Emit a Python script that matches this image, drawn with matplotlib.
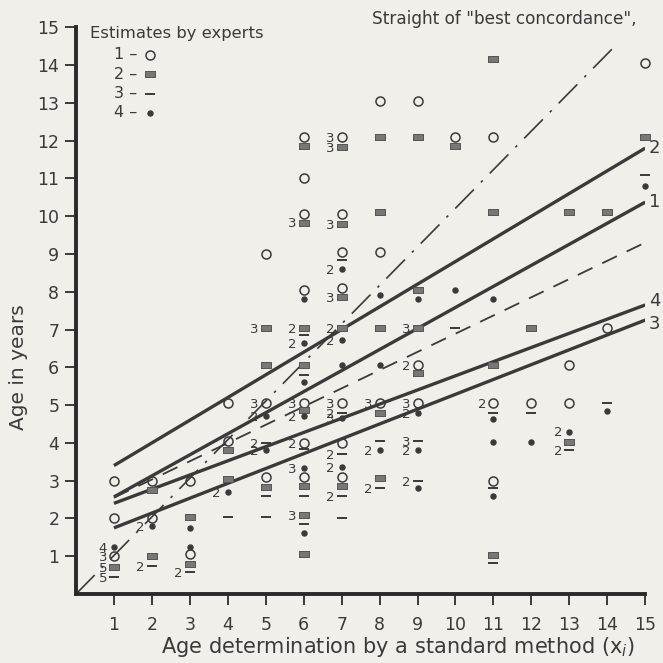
import matplotlib
matplotlib.use("Agg")
import matplotlib.pyplot as plt

# expert 1 - open circles (n = how many coincide, 1 = no label)
circ_x = [1, 1, 1, 2, 2, 3, 3, 4, 4, 5, 5, 5,
          6, 6, 6, 6, 6, 6, 6, 7, 7, 7, 7, 7, 7, 7,
          8, 8, 8, 9, 9, 9, 10, 11, 11, 11, 12, 13, 13, 14, 15]
circ_y = [3.0, 2.0, 1.0, 3.0, 2.0, 3.0, 1.05, 5.05, 4.05, 9.0, 5.05, 3.1,
          12.1, 11.0, 10.05, 8.05, 5.05, 4.0, 3.1, 12.1, 10.05, 9.05, 8.1, 5.05, 4.0, 3.1,
          13.05, 9.05, 5.05, 13.05, 6.05, 5.05, 12.1, 12.1, 5.05, 3.0, 5.05, 6.05, 5.05, 7.05, 14.05]
circ_n = [1, 1, 3, 1, 1, 1, 1, 1, 1, 1, 3, 1,
          1, 1, 1, 1, 3, 2, 1, 3, 1, 1, 1, 3, 1, 1,
          1, 1, 3, 1, 2, 3, 1, 1, 2, 1, 1, 1, 1, 1, 1]

# expert 2 - filled rectangles
sq_x = [1, 2, 2, 3, 3, 4, 4, 5, 5, 5,
        6, 6, 6, 6, 6, 6, 6, 6, 7, 7, 7, 7, 7,
        8, 8, 8, 8, 8, 9, 9, 9, 9, 10, 11, 11, 11, 11, 12, 13, 13, 14, 15]
sq_y = [0.72, 2.75, 1.0, 2.05, 0.8, 3.8, 3.05, 7.05, 6.05, 2.82,
        11.85, 9.83, 7.05, 6.05, 4.87, 2.85, 2.08, 1.05, 11.83, 9.8, 7.85, 7.05, 2.85,
        12.1, 10.1, 7.05, 4.8, 3.07, 12.1, 8.05, 7.05, 5.85, 11.85, 14.15, 10.1, 6.05, 1.03,
        7.05, 10.1, 4.02, 10.1, 12.1]
sq_n = [5, 1, 1, 1, 1, 1, 1, 3, 1, 1,
        1, 3, 2, 1, 1, 1, 3, 1, 3, 3, 3, 2, 1,
        1, 1, 1, 1, 1, 1, 1, 3, 1, 1, 1, 1, 1, 1, 1, 1, 1, 1, 1]

# expert 3 - dashes
dash_x = [1, 2, 3, 4, 5, 5, 5, 6, 6, 6, 6, 6, 7, 7, 7, 7, 7,
          8, 8, 9, 9, 10, 11, 11, 11, 12, 13, 14, 15]
dash_y = [0.45, 0.75, 0.58, 2.05, 4.0, 2.6, 2.05, 6.85, 5.8, 3.85, 2.6, 1.85,
          8.85, 4.8, 3.7, 2.6, 2.0, 4.05, 2.8, 4.05, 3.0, 7.05,
          4.78, 2.8, 0.82, 4.78, 3.8, 5.05, 11.1]
dash_n = [5, 2, 2, 1, 2, 1, 1, 1, 1, 1, 1, 1, 1, 2, 2, 2, 1,
          1, 2, 3, 2, 1, 1, 1, 1, 1, 2, 1, 1]

# expert 4 - dots
dot_x = [1, 2, 3, 3, 4, 5, 5, 6, 6, 6, 6, 6, 6, 7, 7, 7, 7, 7,
         8, 8, 8, 9, 9, 9, 9, 10, 11, 11, 11, 11, 12, 13, 14, 15]
dot_y = [1.25, 1.8, 1.75, 1.25, 2.7, 4.72, 3.8, 7.8, 6.65, 5.6, 4.72, 3.33, 1.62,
         8.6, 6.72, 6.05, 4.65, 3.35, 7.9, 6.05, 3.8, 7.82, 4.8, 3.8, 2.8, 8.05,
         7.82, 4.62, 4.02, 2.6, 4.02, 4.3, 4.85, 10.8]
dot_n = [4, 2, 1, 1, 2, 2, 2, 1, 2, 1, 2, 3, 1, 2, 2, 1, 3, 2,
         1, 1, 2, 1, 2, 2, 1, 1, 1, 1, 1, 1, 1, 2, 1, 1]

# regression lines (value at x=1 and x=15)
line_x = [1, 15]
line1 = [2.57, 10.37]
line2 = [3.4, 11.8]
line3 = [1.75, 7.25]
line4 = [2.4, 7.65]
line_dashed = [2.55, 9.3]
concord_x = [0, 14.3]
concord_y = [0, 14.6]

ink = "#3a3a3a"
paper = "#f0efea"

fig = plt.figure(figsize=(6.63, 6.63), dpi=100, facecolor=paper)
ax = fig.add_axes([0.1146, 0.104, 0.8586, 0.855])
ax.set_facecolor(paper)

ax.plot(line_x, line2, color=ink, lw=2.4, solid_capstyle="butt")
ax.plot(line_x, line1, color=ink, lw=2.4, solid_capstyle="butt")
ax.plot(line_x, line4, color=ink, lw=2.4, solid_capstyle="butt")
ax.plot(line_x, line3, color=ink, lw=2.4, solid_capstyle="butt")
ax.plot(line_x, line_dashed, color=ink, lw=1.3, dashes=(9, 6))
ax.plot(concord_x, concord_y, color=ink, lw=1.2, dashes=(16, 6, 1.5, 6))

for txt, yv in [("2", line2[1]), ("1", line1[1]), ("4", line4[1] + 0.1), ("3", line3[1] - 0.1)]:
    ax.text(15.1, yv, txt, fontsize=13, color=ink, va="center", ha="left", clip_on=False)

rect = [(-1, -0.62), (1, -0.62), (1, 0.62), (-1, 0.62), (-1, -0.62)]
style_circ = dict(marker="o", ms=6.5, mfc="none", mec=ink, mew=1.1, ls="none", clip_on=False)
style_sq = dict(marker=rect, ms=7.5, mfc="#777777", mec="#555555", mew=0.7, ls="none", clip_on=False)
style_dash = dict(marker="_", ms=7, mec=ink, mew=1.4, ls="none", clip_on=False)
style_dot = dict(marker="o", ms=3.6, mfc=ink, mec=ink, ls="none", clip_on=False)

ax.plot(circ_x, circ_y, **style_circ)
ax.plot(sq_x, sq_y, **style_sq)
ax.plot(dash_x, dash_y, **style_dash)
ax.plot(dot_x, dot_y, **style_dot)

# multiplicity labels
for xs, ys, ns in [(circ_x, circ_y, circ_n), (sq_x, sq_y, sq_n),
                   (dash_x, dash_y, dash_n), (dot_x, dot_y, dot_n)]:
    for xv, yv, nv in zip(xs, ys, ns):
        if nv > 1:
            ax.annotate(str(nv), (xv, yv), xytext=(-5, -1), textcoords="offset points",
                        ha="right", va="center", fontsize=9.5, color=ink)

# key
ax.text(0.025, 0.988, "Estimates by experts", transform=ax.transAxes,
        fontsize=11.8, color=ink, va="center", ha="left")
key_rows = [("1 \u2013", style_circ), ("2 \u2013", style_sq),
            ("3 \u2013", style_dash), ("4 \u2013", style_dot)]
for i, (lab, st) in enumerate(key_rows):
    yk = 0.951 - i * 0.034
    ax.text(0.107, yk, lab, transform=ax.transAxes, fontsize=11.5, color=ink,
            va="center", ha="right")
    ax.plot([0.13], [yk], transform=ax.transAxes, **st)

ax.text(0.985, 1.015, 'Straight of "best concordance",', transform=ax.transAxes,
        fontsize=12.2, color=ink, va="center", ha="right")

ax.set_xlim(0, 15)
ax.set_ylim(0, 15)
ax.set_xticks(range(1, 16))
ax.set_yticks(range(1, 16))
ax.tick_params(direction="out", length=8, width=1.4, colors=ink, labelsize=12.5)
ax.tick_params(axis="x", pad=8)
ax.tick_params(axis="y", pad=4)
for side in ["top", "right"]:
    ax.spines[side].set_visible(False)
for side in ["left", "bottom"]:
    ax.spines[side].set_linewidth(2.8)
    ax.spines[side].set_color("#2a2a2a")

ax.set_xlabel("Age determination by a standard method (x$_i$)", fontsize=15, color=ink)
ax.xaxis.set_label_coords(0.566, -0.073)
ax.set_ylabel("Age in years", fontsize=14.5, color=ink)
ax.yaxis.set_label_coords(-0.085, 0.40)

fig.savefig("out.png", dpi=100, facecolor=paper)
